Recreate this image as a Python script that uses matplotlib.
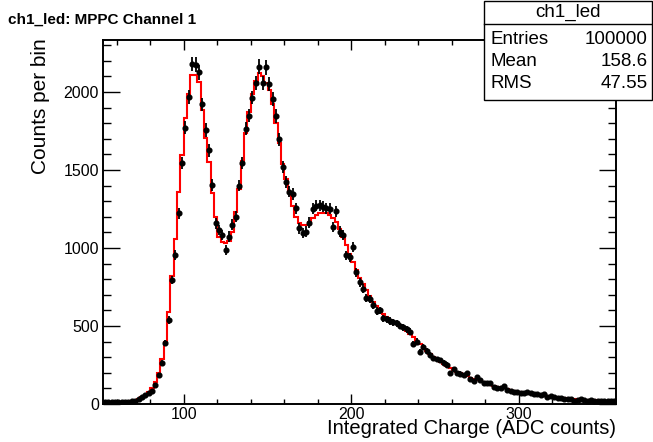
import numpy as np
import matplotlib
matplotlib.use("Agg")
import matplotlib.pyplot as plt
from matplotlib.ticker import MultipleLocator
from matplotlib.patches import Rectangle

plt.rcParams['font.family'] = ['Liberation Sans', 'DejaVu Sans']

# Histogram binning (ADC counts)
x_lo, x_hi, bin_w = 52, 358, 2
bin_edges = np.arange(x_lo, x_hi + bin_w, bin_w)
bin_centers = (bin_edges[:-1] + bin_edges[1:]) / 2

# Measured counts per bin (black points)
counts = [
    12, 10, 12, 10, 12, 10, 14, 15, 18, 22,
    30, 45, 58, 70, 85, 122, 183, 263, 389, 538,
    795, 955, 1222, 1543, 1770, 1965, 2180, 2175, 2125, 1920,
    1756, 1626, 1404, 1158, 1115, 1083, 987, 1073, 1150, 1201,
    1400, 1543, 1763, 1848, 1964, 2056, 2163, 2056, 2158, 2051,
    1953, 1846, 1697, 1521, 1425, 1361, 1346, 1254, 1126, 1096,
    1105, 1163, 1250, 1270, 1275, 1265, 1254, 1250, 1135, 1235,
    1105, 1083, 952, 940, 1006, 843, 779, 739, 677, 672,
    632, 595, 600, 549, 543, 532, 524, 517, 500, 491,
    479, 464, 387, 400, 333, 363, 340, 316, 293, 286,
    280, 263, 253, 197, 223, 197, 195, 186, 197, 159,
    149, 171, 154, 137, 132, 137, 111, 105, 105, 115,
    90, 85, 79, 79, 68, 73, 75, 68, 64, 64,
    58, 62, 47, 51, 43, 36, 36, 30, 32, 30,
    21, 26, 30, 26, 21, 26, 21, 19, 19, 19,
    17, 17, 19,
]

# Model / fit histogram (red line)
model = [
    10, 10, 10, 10, 10, 12, 13, 15, 18, 22,
    30, 42, 55, 75, 100, 140, 200, 290, 400, 590,
    820, 1060, 1360, 1596, 1831, 1990, 2110, 2110, 2066, 1885,
    1703, 1553, 1350, 1200, 1070, 1040, 1030, 1045, 1100, 1230,
    1380, 1560, 1740, 1870, 1990, 2070, 2120, 2100, 2060, 2010,
    1920, 1800, 1670, 1540, 1440, 1360, 1270, 1200, 1160, 1145,
    1145, 1165, 1190, 1210, 1222, 1225, 1222, 1210, 1195, 1165,
    1120, 1070, 1020, 960, 910, 860, 810, 770, 730, 690,
    655, 625, 600, 575, 555, 540, 525, 512, 498, 485,
    470, 450, 430, 405, 385, 362, 340, 320, 302, 285,
    270, 256, 243, 230, 219, 208, 197, 187, 178, 169,
    161, 153, 145, 138, 131, 124, 118, 112, 106, 100,
    95, 90, 85, 80, 76, 72, 68, 64, 61, 58,
    55, 52, 49, 46, 44, 41, 39, 37, 35, 33,
    31, 30, 28, 27, 25, 24, 23, 22, 21, 20,
    19, 18, 17,
]

stats_title = "ch1_led"
stats_rows = [("Entries", "100000"), ("Mean", "158.6"), ("RMS", "47.55")]

W, H = 653, 442
fig = plt.figure(figsize=(W / 100, H / 100), dpi=100)
ax = fig.add_axes([103 / W, 1 - 404 / H, (616 - 103) / W, (404 - 40) / H])

counts_arr = np.array(counts, dtype=float)
ax.stairs(model, bin_edges, color='red', lw=1.5, baseline=None, zorder=2)
ax.errorbar(bin_centers, counts_arr, yerr=np.sqrt(counts_arr), fmt='o',
            color='black', ms=3.4, elinewidth=1.3, capsize=0, zorder=3)

ax.set_xlim(51.8, 357.9)
ax.set_ylim(0, 2333)

ax.xaxis.set_major_locator(MultipleLocator(100))
ax.xaxis.set_minor_locator(MultipleLocator(20))
ax.yaxis.set_major_locator(MultipleLocator(500))
ax.yaxis.set_minor_locator(MultipleLocator(100))
ax.tick_params(axis='x', which='major', direction='in', length=7.2, width=1.0,
               top=True, labelsize=11.5, pad=2)
ax.tick_params(axis='x', which='minor', direction='in', length=3.6, width=1.0, top=True)
ax.tick_params(axis='y', which='major', direction='in', length=12, width=1.0,
               right=True, labelsize=11.5, pad=3)
ax.tick_params(axis='y', which='minor', direction='in', length=6, width=1.0, right=True)
for s in ax.spines.values():
    s.set_linewidth(1.4)

fig.text(616 / W, 1 - 434 / H, "Integrated Charge (ADC counts)", ha='right',
         va='baseline', fontsize=14.5)
fig.text(40 / W, 1 - 38 / H, "Counts per bin", rotation=90, ha='center',
         va='top', fontsize=15)
fig.text(8 / W, 1 - 20 / H, "ch1_led: MPPC Channel 1", ha='left', va='center',
         fontsize=11, fontweight='bold')

# Stats box
bx0, by0, bx1, by1 = 484, 1, 652, 100
fig.patches.append(Rectangle((bx0 / W, 1 - by1 / H), (bx1 - bx0) / W, (by1 - by0) / H,
                             transform=fig.transFigure, facecolor='white',
                             edgecolor='black', lw=1.0, zorder=10))
fig.add_artist(plt.Line2D([bx0 / W, bx1 / W], [1 - 24 / H, 1 - 24 / H],
                          transform=fig.transFigure, color='black', lw=1.0, zorder=11))
fig.text((bx0 + bx1) / 2 / W, 1 - 12 / H, stats_title, ha='center', va='center',
         fontsize=13.5, zorder=12)
for i, (k, v) in enumerate(stats_rows):
    yy = 1 - (40 + 22 * i) / H
    fig.text(490 / W, yy, k, ha='left', va='center', fontsize=13.5, zorder=12)
    fig.text(648 / W, yy, v, ha='right', va='center', fontsize=13.5, zorder=12)

fig.savefig("out.png", dpi=100)
